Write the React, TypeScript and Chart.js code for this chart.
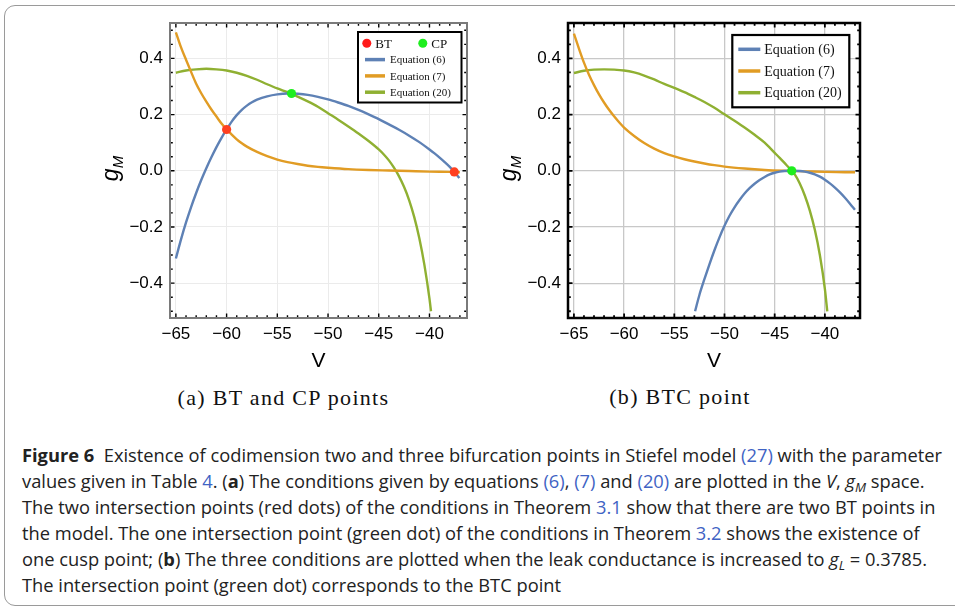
import React, { useEffect, useRef } from "react";
import { Chart, registerables } from "chart.js";

Chart.register(...registerables);

// ---- axis ticks ----
const vMajorTicks = [-65, -60, -55, -50, -45, -40];
const vMinorTicks = [-65, -64, -63, -62, -61, -60, -59, -58, -57, -56, -55, -54, -53, -52, -51, -50, -49, -48, -47, -46, -45, -44, -43, -42, -41, -40, -39, -38, -37];
const gMajorTicks = [-0.4, -0.2, 0, 0.2, 0.4];
const gMinorTicks = [-0.5, -0.45, -0.4, -0.35, -0.3, -0.25, -0.2, -0.15, -0.1, -0.05, 0, 0.05, 0.1, 0.15, 0.2, 0.25, 0.3, 0.35, 0.4, 0.45, 0.5];

// ---- legend entries ----
const seriesNames = ["Equation (6)", "Equation (7)", "Equation (20)"];
const seriesColors = ["#5E81B5", "#E19C24", "#8FB032"];
const markerNames = ["BT", "CP"];

// ---- (a) BT and CP points ----
const eq6VA = [-65, -64.5, -64, -63.5, -63, -62.5, -62, -61.5, -61, -60.5, -60, -59.5, -59, -58.5, -58, -57.5, -57, -56, -55, -54, -53.6, -53, -52, -51, -50, -49, -48, -47, -46, -45, -44, -43, -42, -41, -40, -39.5, -39, -38.5, -38, -37.55, -37.05];
const eq6GA = [-0.312, -0.245, -0.184, -0.129, -0.079, -0.033, 0.009, 0.048, 0.084, 0.117, 0.147, 0.175, 0.198, 0.217, 0.232, 0.244, 0.253, 0.265, 0.272, 0.275, 0.275, 0.274, 0.27, 0.263, 0.254, 0.243, 0.231, 0.217, 0.201, 0.184, 0.165, 0.146, 0.125, 0.102, 0.076, 0.062, 0.047, 0.031, 0.014, -0.004, -0.026];

const eq7VA = [-65, -64.5, -64, -63.5, -63, -62.5, -62, -61.5, -61, -60.5, -60, -59.5, -59, -58.5, -58, -57, -56, -55, -54, -53, -52, -51, -50, -48, -46, -44, -42, -40, -38, -37];
const eq7GA = [0.493, 0.44, 0.395, 0.352, 0.31, 0.276, 0.246, 0.218, 0.193, 0.168, 0.147, 0.129, 0.112, 0.098, 0.086, 0.067, 0.052, 0.04, 0.031, 0.024, 0.018, 0.014, 0.011, 0.006, 0.003, 0.001, -0.001, -0.003, -0.004, -0.005];

const eq20VA = [-65, -64, -63, -62, -61, -60, -59, -58, -57, -56, -55, -54, -53.6, -53, -52, -51, -50, -49, -48, -47, -46, -45, -44.5, -44, -43.5, -43, -42.5, -42, -41.5, -41, -40.5, -40, -39.85];
const eq20GA = [0.349, 0.357, 0.361, 0.363, 0.361, 0.357, 0.349, 0.338, 0.324, 0.308, 0.293, 0.28, 0.274, 0.264, 0.247, 0.228, 0.205, 0.182, 0.158, 0.133, 0.106, 0.076, 0.058, 0.037, 0.011, -0.02, -0.058, -0.105, -0.165, -0.24, -0.335, -0.455, -0.5];

const btVA = [-60, -37.55];
const btGA = [0.147, -0.004];
const cpVA = [-53.6];
const cpGA = [0.275];

// ---- (b) BTC point ----
const eq6VB = [-52.93, -52.5, -52, -51.5, -51, -50.5, -50, -49.5, -49, -48.5, -48, -47.5, -47, -46.5, -46, -45.5, -45, -44.5, -44, -43.3, -42.5, -42, -41.5, -41, -40.5, -40, -39.5, -39, -38.5, -38, -37.5, -37];
const eq6GB = [-0.5, -0.442, -0.386, -0.333, -0.283, -0.237, -0.196, -0.16, -0.13, -0.104, -0.081, -0.062, -0.046, -0.033, -0.022, -0.013, -0.007, -0.003, -0.001, 0, -0.001, -0.003, -0.007, -0.013, -0.021, -0.032, -0.045, -0.06, -0.077, -0.096, -0.117, -0.139];

const eq7VB = [-65, -64.5, -64, -63.5, -63, -62.5, -62, -61.5, -61, -60.5, -60, -59, -58, -57, -56, -55, -54, -53, -52, -51, -50, -48, -46, -44, -42, -40, -38, -37];
const eq7GB = [0.488, 0.435, 0.385, 0.342, 0.305, 0.272, 0.243, 0.217, 0.194, 0.173, 0.154, 0.124, 0.099, 0.079, 0.063, 0.051, 0.041, 0.033, 0.026, 0.02, 0.015, 0.008, 0.003, 0.0, -0.002, -0.004, -0.005, -0.005];

const eq20VB = [-65, -64, -63, -62, -61, -60, -59, -58, -57, -56, -55, -54, -53, -52, -51, -50, -49, -48, -47, -46, -45, -44.5, -44, -43.5, -43.3, -43, -42.5, -42, -41.5, -41, -40.5, -40, -39.76];
const eq20GB = [0.348, 0.356, 0.36, 0.361, 0.36, 0.357, 0.35, 0.339, 0.325, 0.309, 0.295, 0.28, 0.263, 0.245, 0.224, 0.201, 0.178, 0.154, 0.128, 0.1, 0.064, 0.046, 0.027, 0.008, 0, -0.013, -0.045, -0.088, -0.142, -0.21, -0.3, -0.42, -0.5];

const btcVB = [-43.3];
const btcGB = [0.0];

const MINUS = "\u2212";
const SANS = "'Liberation Sans', Arial, sans-serif";
const SERIF = "'Liberation Serif', 'Times New Roman', serif";

type Curve = { v: number[]; g: number[] };
type Marker = { v: number[]; g: number[]; color: string };

type Panel = {
  curves: Curve[];
  markers: Marker[];
  vMin: number;
  vMax: number;
  yAxisWidth: number;
  padRight: number;
  gridColor: string;
  gridWidth: number;
  frameColor: string;
  frameWidth: number;
  tickWidth: number;
  legend: any;
};

const toPts = (v: number[], g: number[]) => v.map((x, i) => ({ x, y: g[i] }));

// Inward frame ticks (major + minor) on all four sides, then the frame itself.
const frameTicksPlugin = {
  id: "frameTicks",
  afterDatasetsDraw(chart: any, _args: any, opts: any) {
    const { ctx, chartArea, scales } = chart;
    const { left, right, top, bottom } = chartArea;
    ctx.save();
    ctx.strokeStyle = opts.tickColor;
    ctx.lineWidth = opts.tickWidth;
    ctx.beginPath();
    for (const v of vMinorTicks) {
      const px = scales.x.getPixelForValue(v);
      const len = vMajorTicks.includes(v) ? opts.majorLen : opts.minorLen;
      ctx.moveTo(px, bottom);
      ctx.lineTo(px, bottom - len);
      ctx.moveTo(px, top);
      ctx.lineTo(px, top + len);
    }
    for (const g of gMinorTicks) {
      const py = scales.y.getPixelForValue(g);
      const len = gMajorTicks.some((m) => Math.abs(m - g) < 1e-9) ? opts.majorLen : opts.minorLen;
      ctx.moveTo(left, py);
      ctx.lineTo(left + len, py);
      ctx.moveTo(right, py);
      ctx.lineTo(right - len, py);
    }
    ctx.stroke();
    ctx.strokeStyle = opts.frameColor;
    ctx.lineWidth = opts.frameWidth;
    ctx.strokeRect(left, top, right - left, bottom - top);
    ctx.restore();
  },
};

// Boxed legend in the upper-right corner of the plot area.
const boxLegendPlugin = {
  id: "boxLegend",
  afterDraw(chart: any, _args: any, o: any) {
    const { ctx, chartArea } = chart;
    const x0 = chartArea.right - o.offsetRight - o.width;
    const y0 = chartArea.top + o.offsetTop;
    ctx.save();
    ctx.fillStyle = "#fff";
    ctx.fillRect(x0, y0, o.width, o.height);
    ctx.strokeStyle = "#000";
    ctx.lineWidth = o.borderWidth;
    ctx.strokeRect(x0, y0, o.width, o.height);
    ctx.textBaseline = "middle";
    ctx.textAlign = "left";
    ctx.fillStyle = "#111";
    let y = y0 + o.firstRow;
    if (o.markers && o.markers.length) {
      ctx.font = `${o.markerFont}px ${SERIF}`;
      o.markers.forEach((m: any, i: number) => {
        const mx = x0 + o.markerX[i];
        ctx.fillStyle = m.color;
        ctx.beginPath();
        ctx.arc(mx, y, o.dotRadius, 0, Math.PI * 2);
        ctx.fill();
        ctx.fillStyle = "#111";
        ctx.fillText(m.name, mx + o.markerTextGap, y + 1);
      });
      y += o.rowGap;
    }
    ctx.font = `${o.font}px ${SERIF}`;
    seriesNames.forEach((name, i) => {
      ctx.strokeStyle = seriesColors[i];
      ctx.lineWidth = o.swatchWidth;
      ctx.beginPath();
      ctx.moveTo(x0 + o.lineX0, y);
      ctx.lineTo(x0 + o.lineX1, y);
      ctx.stroke();
      ctx.fillStyle = "#111";
      ctx.fillText(name, x0 + o.textX, y + 1);
      y += o.rowGap;
    });
    ctx.restore();
  },
};

// Rotated italic g with subscript M for the vertical axis.
const gmTitlePlugin = {
  id: "gmTitle",
  afterDraw(chart: any, _args: any, o: any) {
    const { ctx, chartArea } = chart;
    const cy = (chartArea.top + chartArea.bottom) / 2 - 2;
    ctx.save();
    ctx.translate(chartArea.left - o.offset, cy);
    ctx.rotate(-Math.PI / 2);
    ctx.fillStyle = "#000";
    ctx.textAlign = "left";
    ctx.textBaseline = "alphabetic";
    ctx.font = `italic 23px ${SANS}`;
    const gw = ctx.measureText("g").width;
    ctx.font = `italic 15px ${SANS}`;
    const mw = ctx.measureText("M").width;
    const start = -(gw + mw) / 2;
    ctx.font = `italic 23px ${SANS}`;
    ctx.fillText("g", start, 0);
    ctx.font = `italic 15px ${SANS}`;
    ctx.fillText("M", start + gw, 5);
    ctx.restore();
  },
};

function makeConfig(p: Panel): any {
  const datasets: any[] = [];
  p.markers.forEach((m) => {
    datasets.push({
      data: toPts(m.v, m.g),
      showLine: false,
      pointRadius: 4.6,
      pointBackgroundColor: m.color,
      pointBorderWidth: 0,
      order: -1,
    });
  });
  p.curves.forEach((c, i) => {
    datasets.push({
      data: toPts(c.v, c.g),
      showLine: true,
      borderColor: seriesColors[i],
      borderWidth: 2.4,
      pointRadius: 0,
      cubicInterpolationMode: "monotone",
      fill: false,
      order: i,
    });
  });
  return {
    type: "scatter",
    data: { datasets },
    plugins: [frameTicksPlugin, boxLegendPlugin, gmTitlePlugin],
    options: {
      responsive: false,
      animation: false,
      events: [],
      layout: { padding: { top: 23, right: p.padRight, bottom: 0, left: 0 } },
      scales: {
        x: {
          type: "linear",
          min: p.vMin,
          max: p.vMax,
          afterBuildTicks: (s: any) => {
            s.ticks = vMajorTicks.map((value) => ({ value }));
          },
          afterFit: (s: any) => {
            s.height = 62;
          },
          ticks: {
            autoSkip: false,
            maxRotation: 0,
            padding: 6,
            color: "#000",
            font: { family: SANS, size: 17 },
            callback: (v: number) => String(v).replace("-", MINUS),
          },
          grid: { color: p.gridColor, lineWidth: p.gridWidth, drawTicks: false },
          border: { display: false },
          title: {
            display: true,
            text: "V",
            color: "#000",
            font: { family: SANS, size: 21 },
            padding: { top: 0, bottom: 6 },
          },
        },
        y: {
          type: "linear",
          min: -0.524,
          max: 0.526,
          afterBuildTicks: (s: any) => {
            s.ticks = gMajorTicks.map((value) => ({ value }));
          },
          afterFit: (s: any) => {
            s.width = p.yAxisWidth;
          },
          ticks: {
            autoSkip: false,
            padding: 7,
            color: "#000",
            font: { family: SANS, size: 17 },
            callback: (v: number) => (v === 0 ? "0.0" : v.toFixed(1).replace("-", MINUS)),
          },
          grid: { color: p.gridColor, lineWidth: p.gridWidth, drawTicks: false },
          border: { display: false },
        },
      },
      plugins: {
        legend: { display: false },
        tooltip: { enabled: false },
        frameTicks: {
          tickColor: "#000",
          tickWidth: p.tickWidth,
          majorLen: 4.5,
          minorLen: 2.8,
          frameColor: p.frameColor,
          frameWidth: p.frameWidth,
        },
        boxLegend: p.legend,
        gmTitle: { offset: 52 },
      },
    },
  };
}

const panelA: Panel = {
  curves: [
    { v: eq6VA, g: eq6GA },
    { v: eq7VA, g: eq7GA },
    { v: eq20VA, g: eq20GA },
  ],
  markers: [
    { v: btVA, g: btGA, color: "#FF4020" },
    { v: cpVA, g: cpGA, color: "#1EEE1E" },
  ],
  vMin: -65.58,
  vMax: -36.3,
  yAxisWidth: 70,
  padRight: 13,
  gridColor: "#ebebeb",
  gridWidth: 1,
  frameColor: "#7a7a7a",
  frameWidth: 2,
  tickWidth: 1.4,
  legend: {
    offsetRight: 5.5,
    offsetTop: 9,
    width: 103.5,
    height: 70.5,
    borderWidth: 2,
    firstRow: 11.3,
    rowGap: 16.3,
    markers: [
      { name: markerNames[0], color: "#FF1A1A" },
      { name: markerNames[1], color: "#1EEE1E" },
    ],
    markerX: [8.8, 64.8],
    markerTextGap: 8.5,
    markerFont: 13,
    dotRadius: 4.5,
    font: 11,
    lineX0: 7,
    lineX1: 27,
    textX: 32,
    swatchWidth: 3.5,
  },
};

const panelB: Panel = {
  curves: [
    { v: eq6VB, g: eq6GB },
    { v: eq7VB, g: eq7GB },
    { v: eq20VB, g: eq20GB },
  ],
  markers: [{ v: btcVB, g: btcGB, color: "#1EEE1E" }],
  vMin: -65.59,
  vMax: -36.5,
  yAxisWidth: 78,
  padRight: 10,
  gridColor: "#c8c8c8",
  gridWidth: 1.3,
  frameColor: "#000",
  frameWidth: 2.5,
  tickWidth: 1.8,
  legend: {
    offsetRight: 10.7,
    offsetTop: 12,
    width: 117,
    height: 72.3,
    borderWidth: 2.2,
    firstRow: 14.3,
    rowGap: 21.7,
    markers: [],
    markerX: [],
    markerTextGap: 0,
    markerFont: 13,
    dotRadius: 4.5,
    font: 14,
    lineX0: 6,
    lineX1: 28,
    textX: 32,
    swatchWidth: 3.5,
  },
};

function PanelChart({ panel, left }: { panel: Panel; left: number }) {
  const ref = useRef<HTMLCanvasElement | null>(null);
  useEffect(() => {
    if (!ref.current) return;
    const chart = new Chart(ref.current, makeConfig(panel));
    return () => chart.destroy();
  }, [panel]);
  return (
    <canvas
      ref={ref}
      width={380}
      height={380}
      style={{ position: "absolute", left, top: 0, width: 380, height: 380 }}
    />
  );
}

const LINK = "#3f63c4";
const Ln = ({ children }: { children: React.ReactNode }) => <span style={{ color: LINK }}>{children}</span>;
const Sub = ({ children }: { children: React.ReactNode }) => (
  <sub style={{ fontSize: "0.72em", verticalAlign: "-0.28em", lineHeight: 0, fontStyle: "italic" }}>{children}</sub>
);

const subCaptionStyle: React.CSSProperties = {
  position: "absolute",
  transform: "translateX(-50%)",
  whiteSpace: "nowrap",
  fontFamily: SERIF,
  fontSize: 22,
  letterSpacing: 1.3,
  color: "#111",
  lineHeight: "26px",
};

export default function App() {
  return (
    <div
      style={{
        position: "fixed",
        left: 0,
        top: 0,
        width: 955,
        height: 613,
        overflow: "hidden",
        background: "#fff",
      }}
    >
      <div
        style={{
          position: "absolute",
          left: 4,
          top: 5,
          width: 1000,
          height: 601,
          border: "1.5px solid #9a9a9a",
          borderRadius: 11,
          boxSizing: "border-box",
        }}
      />
      <PanelChart panel={panelA} left={100} />
      <PanelChart panel={panelB} left={490} />
      <div style={{ ...subCaptionStyle, left: 283.5, top: 385 }}>(a) BT and CP points</div>
      <div style={{ ...subCaptionStyle, left: 680, top: 384 }}>(b) BTC point</div>
      <div
        style={{
          position: "absolute",
          left: 22,
          top: 442,
          whiteSpace: "nowrap",
          fontFamily: "'Open Sans', sans-serif",
          fontSize: 18.3,
          lineHeight: "26px",
          color: "#222",
        }}
      >
        <b>Figure 6</b>&nbsp;&nbsp;Existence of codimension two and three bifurcation points in Stiefel model <Ln>(27)</Ln> with the parameter
        <br />
        values given in Table <Ln>4</Ln>. (<b>a</b>) The conditions given by equations <Ln>(6)</Ln>, <Ln>(7)</Ln> and <Ln>(20)</Ln> are plotted in the <i>V</i>, <i>g</i>
        <Sub>M</Sub> space.
        <br />
        The two intersection points (red dots) of the conditions in Theorem <Ln>3.1</Ln> show that there are two BT points in
        <br />
        the model. The one intersection point (green dot) of the conditions in Theorem <Ln>3.2</Ln> shows the existence of
        <br />
        one cusp point; (<b>b</b>) The three conditions are plotted when the leak conductance is increased to <i>g</i>
        <Sub>L</Sub> = 0.3785.
        <br />
        The intersection point (green dot) corresponds to the BTC point
      </div>
    </div>
  );
}
